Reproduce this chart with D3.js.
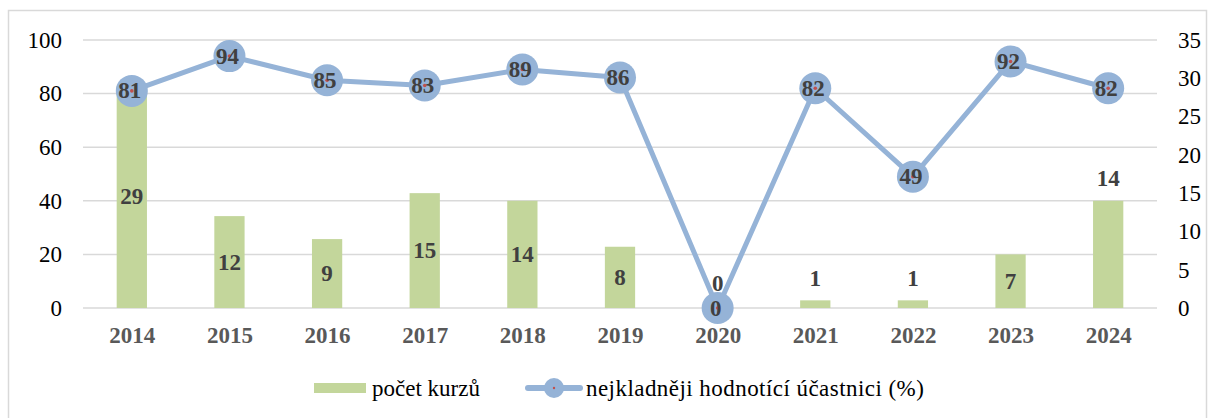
<!DOCTYPE html>
<html>
<head>
<meta charset="utf-8">
<script src="https://cdn.jsdelivr.net/npm/d3@7"></script>
<style>
  body { margin: 0; background: #fff; }
</style>
</head>
<body>
<div id="chart"></div>
<script>
// chart values
const years = ["2014", "2015", "2016", "2017", "2018", "2019", "2020", "2021", "2022", "2023", "2024"];
const courses = [29, 12, 9, 15, 14, 8, 0, 1, 1, 7, 14];            // počet kurzů (right axis)
const positive = [81, 94, 85, 83, 89, 86, 0, 82, 49, 92, 82];      // nejkladněji hodnotící účastnici (%) (left axis)
const leftTicks = [0, 20, 40, 60, 80, 100];
const rightTicks = [0, 5, 10, 15, 20, 25, 30, 35];
const labelsAbove = ["2020", "2021", "2022", "2024"];               // bar labels sitting over the bar
const seriesNames = ["počet kurzů", "nejkladněji hodnotící účastnici (%)"];

const width = 1208, height = 418;
const margin = { top: 40, right: 51, bottom: 110, left: 83 };
const font = "'Liberation Serif', 'Times New Roman', 'DejaVu Serif'";
const fs = "23px";

const barColor = "#C3D69B", lineColor = "#95B3D7", dotColor = "#C0504D";
const gridColor = "#D9D9D9", labelColor = "#404040";

const svg = d3.select("#chart")
  .append("svg")
  .attr("width", width)
  .attr("height", height)
  .style("font-family", font);

// outer frame
svg.append("rect")
  .attr("x", 8.5).attr("y", 10.5)
  .attr("width", 1198).attr("height", 420)
  .attr("fill", "none")
  .attr("stroke", gridColor)
  .attr("stroke-width", 1.5);

const x = d3.scaleBand()
  .domain(years)
  .range([margin.left, width - margin.right])
  .paddingInner(0.69)
  .paddingOuter(0.345);

const xc = d3.scalePoint()
  .domain(years)
  .range([margin.left, width - margin.right])
  .padding(0.5);

const yLeft = d3.scaleLinear().domain([0, 100]).range([height - margin.bottom, margin.top]);
const yRight = d3.scaleLinear().domain([0, 35]).range([height - margin.bottom, margin.top]);

// gridlines
svg.append("g")
  .selectAll("line")
  .data(leftTicks)
  .join("line")
  .attr("x1", margin.left)
  .attr("x2", width - margin.right)
  .attr("y1", d => yLeft(d))
  .attr("y2", d => yLeft(d))
  .attr("stroke", gridColor)
  .attr("stroke-width", 1.5);

// left axis
const leftAxis = svg.append("g")
  .attr("transform", `translate(${margin.left},0)`)
  .call(d3.axisLeft(yLeft).tickValues(leftTicks).tickSize(0).tickPadding(21));
leftAxis.select(".domain").remove();
leftAxis.selectAll("text")
  .style("font-family", font)
  .style("font-size", fs)
  .attr("fill", "#000");

// right axis
const rightAxis = svg.append("g")
  .attr("transform", `translate(${width - margin.right},0)`)
  .call(d3.axisRight(yRight).tickValues(rightTicks).tickSize(0).tickPadding(21));
rightAxis.select(".domain").remove();
rightAxis.selectAll("text")
  .style("font-family", font)
  .style("font-size", fs)
  .attr("fill", "#000");

// category axis
const xAxis = svg.append("g")
  .attr("transform", `translate(0,${height - margin.bottom})`)
  .call(d3.axisBottom(xc).tickSize(0).tickPadding(19));
xAxis.select(".domain").remove();
xAxis.selectAll("text")
  .style("font-family", font)
  .style("font-size", fs)
  .style("font-weight", "bold")
  .attr("fill", "#595959");

// bars
svg.append("g")
  .selectAll("rect")
  .data(courses)
  .join("rect")
  .attr("x", (d, i) => x(years[i]))
  .attr("width", x.bandwidth())
  .attr("y", d => yRight(d))
  .attr("height", d => yRight(0) - yRight(d))
  .attr("fill", barColor);

// bar labels
svg.append("g")
  .selectAll("text")
  .data(courses)
  .join("text")
  .attr("x", (d, i) => xc(years[i]))
  .attr("y", (d, i) => labelsAbove.includes(years[i])
    ? Math.min(yRight(d) - 22, yRight(0) - 25)
    : (yRight(d) + yRight(0)) / 2)
  .attr("text-anchor", "middle")
  .attr("dominant-baseline", "central")
  .attr("fill", labelColor)
  .style("font-family", font)
  .style("font-size", fs)
  .style("font-weight", "bold")
  .text(d => d);

// line
const line = d3.line()
  .x((d, i) => xc(years[i]))
  .y(d => yLeft(d));

svg.append("path")
  .datum(positive)
  .attr("d", line)
  .attr("fill", "none")
  .attr("stroke", lineColor)
  .attr("stroke-width", 5)
  .attr("stroke-linejoin", "round");

const points = svg.append("g")
  .selectAll("g")
  .data(positive)
  .join("g")
  .attr("transform", (d, i) => `translate(${xc(years[i])},${yLeft(d)})`);

points.append("circle")
  .attr("r", 16)
  .attr("fill", lineColor);

points.append("circle")
  .attr("r", 1.8)
  .attr("fill", dotColor);

points.append("text")
  .attr("text-anchor", "middle")
  .attr("dominant-baseline", "central")
  .attr("x", -2)
  .attr("fill", labelColor)
  .style("font-family", font)
  .style("font-size", fs)
  .style("font-weight", "bold")
  .text(d => d);

// legend
const legend = svg.append("g").attr("transform", "translate(0,388)");

legend.append("rect")
  .attr("x", 314).attr("y", -5)
  .attr("width", 52).attr("height", 10)
  .attr("fill", barColor);

legend.append("text")
  .attr("x", 372)
  .attr("dominant-baseline", "central")
  .style("font-family", font)
  .style("font-size", fs)
  .attr("fill", "#000")
  .text(seriesNames[0]);

legend.append("line")
  .attr("x1", 528).attr("x2", 580)
  .attr("stroke", lineColor)
  .attr("stroke-width", 6)
  .attr("stroke-linecap", "round");

legend.append("circle")
  .attr("cx", 554).attr("r", 10)
  .attr("fill", lineColor);

legend.append("circle")
  .attr("cx", 554).attr("r", 1.2)
  .attr("fill", dotColor);

legend.append("text")
  .attr("x", 586)
  .attr("dominant-baseline", "central")
  .style("font-family", font)
  .style("font-size", fs)
  .style("letter-spacing", "0.45px")
  .attr("fill", "#000")
  .text(seriesNames[1]);
</script>
</body>
</html>
